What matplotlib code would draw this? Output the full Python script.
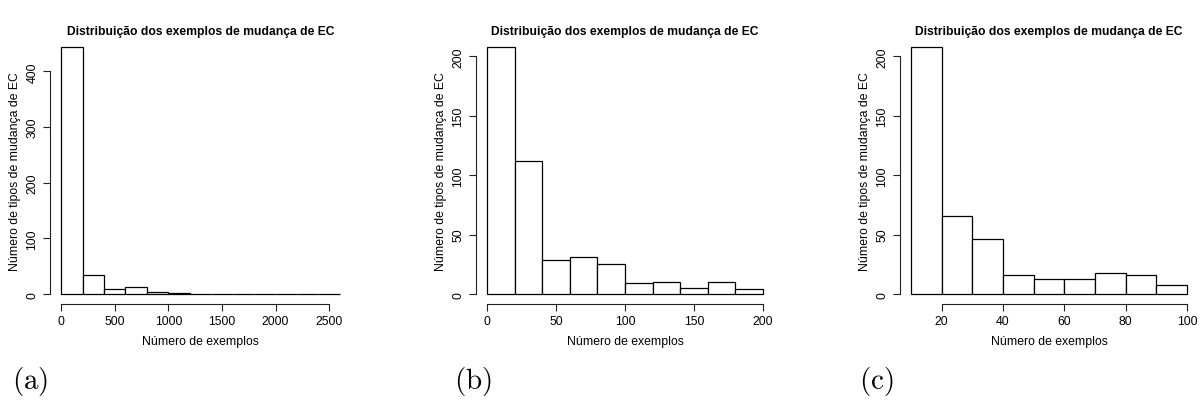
import matplotlib
matplotlib.use('Agg')
import matplotlib.pyplot as plt

plt.rcParams['font.family'] = ['Liberation Sans', 'DejaVu Sans']
plt.rcParams['mathtext.fontset'] = 'cm'

# dados dos tres histogramas
edges_a = [0, 200, 400, 600, 800, 1000, 1200, 1400, 1600, 1800, 2000, 2200, 2400, 2600]
counts_a = [444, 35, 10, 12, 3, 2, 0, 1, 0, 0, 0, 1, 1]
ticks_a = [0, 500, 1000, 1500, 2000, 2500]
yticks_a = [0, 100, 200, 300, 400]

edges_b = [0, 20, 40, 60, 80, 100, 120, 140, 160, 180, 200]
counts_b = [208, 112, 29, 31, 25, 9, 10, 5, 10, 4]
ticks_b = [0, 50, 100, 150, 200]
yticks_b = [0, 50, 100, 150, 200]

edges_c = [10, 20, 30, 40, 50, 60, 70, 80, 90, 100]
counts_c = [208, 66, 46, 16, 13, 13, 18, 16, 8]
ticks_c = [20, 40, 60, 80, 100]
yticks_c = [0, 50, 100, 150, 200]

panel_labels = ['(a)', '(b)', '(c)']
title = 'Distribuição dos exemplos de mudança de EC'
xlabel = 'Número de exemplos'
ylabel = 'Número de tipos de mudança de EC'

W, H = 1200, 406
fig = plt.figure(figsize=(W / 100, H / 100), dpi=100)

# posicoes em pixels (esquerda, direita) de cada painel
boxes = [(50, 351), (476, 774), (900, 1198)]
label_x = [30, 473, 876]
top_px, bottom_px = 38, 305

panels = [(edges_a, counts_a, ticks_a, yticks_a),
          (edges_b, counts_b, ticks_b, yticks_b),
          (edges_c, counts_c, ticks_c, yticks_c)]

for i, (edges, counts, xt, yt) in enumerate(panels):
    l, r = boxes[i]
    ax = fig.add_axes([l / W, 1 - bottom_px / H, (r - l) / W, (bottom_px - top_px) / H])

    widths = [edges[k + 1] - edges[k] for k in range(len(counts))]
    ax.bar(edges[:-1], counts, width=widths, align='edge',
           facecolor='white', edgecolor='black', linewidth=0.9)

    # margem de 4% como no R
    x0, x1 = edges[0], edges[-1]
    dx = (x1 - x0) * 0.04
    ymax = max(counts)
    dy = ymax * 0.04
    ax.set_xlim(x0 - dx, x1 + dx)
    ax.set_ylim(-dy, ymax + dy)

    for s in ['top', 'right']:
        ax.spines[s].set_visible(False)
    ax.spines['left'].set_bounds(yt[0], yt[-1])
    ax.spines['bottom'].set_bounds(xt[0], xt[-1])
    for s in ['left', 'bottom']:
        ax.spines[s].set_linewidth(0.8)
        ax.spines[s].set_color('#222222')

    ax.set_xticks(xt)
    ax.set_yticks(yt)
    ax.set_yticklabels([str(v) for v in yt], rotation=90, va='center')
    ax.tick_params(axis='both', length=5, width=0.8, pad=3.2, labelsize=8.8,
                   color='#222222')

    ax.set_title(title, fontsize=8.7, fontweight='bold', pad=0)
    ax.title.set_position((0.5, 1 + (top_px - 17) / (bottom_px - top_px)))
    ax.title.set_va('center')

    ax.set_xlabel(xlabel, fontsize=8.8, va='center')
    ax.xaxis.set_label_coords(0.5, -(342 - bottom_px) / (bottom_px - top_px))
    ax.set_ylabel(ylabel, fontsize=8.8, va='center')
    ax.yaxis.set_label_coords(-35 / (r - l), 0.5)

    fig.text(label_x[i] / W, 1 - 382 / H, r'$\mathrm{' + panel_labels[i] + '}$',
             fontsize=21, ha='center', va='center')

fig.savefig('out.png', dpi=100)
